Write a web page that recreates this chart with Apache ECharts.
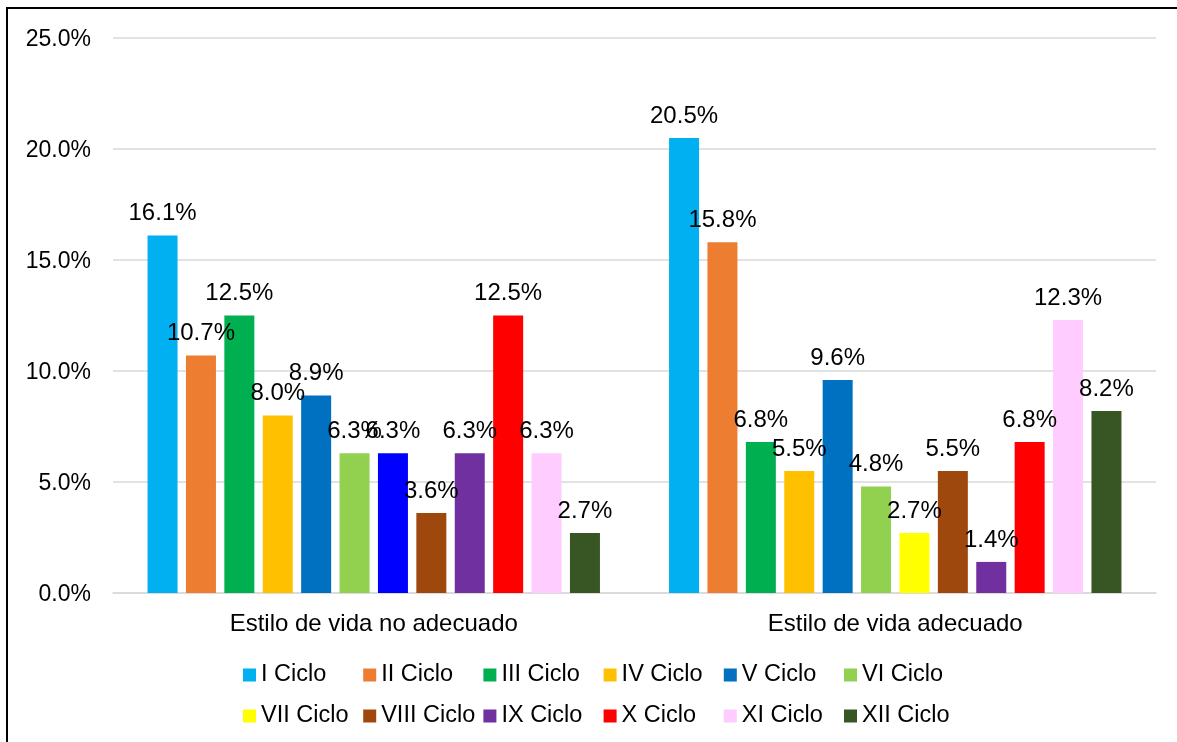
<!DOCTYPE html>
<html>
<head>
<meta charset="utf-8">
<script src="https://cdn.jsdelivr.net/npm/echarts@6/dist/echarts.min.js"></script>
<style>
  html, body { margin: 0; padding: 0; background: #fff; }
  #main { width: 1177px; height: 742px; }
</style>
</head>
<body>
<div id="main"></div>
<script>
const categories = ['Estilo de vida no adecuado', 'Estilo de vida adecuado'];
const cycles = ['I Ciclo', 'II Ciclo', 'III Ciclo', 'IV Ciclo', 'V Ciclo', 'VI Ciclo',
  'VII Ciclo', 'VIII Ciclo', 'IX Ciclo', 'X Ciclo', 'XI Ciclo', 'XII Ciclo'];
// porcentaje por ciclo: [no adecuado, adecuado]
const values = [
  [16.1, 20.5],
  [10.7, 15.8],
  [12.5, 6.8],
  [8.0, 5.5],
  [8.9, 9.6],
  [6.3, 4.8],
  [6.3, 2.7],
  [3.6, 5.5],
  [6.3, 1.4],
  [12.5, 6.8],
  [6.3, 12.3],
  [2.7, 8.2]
];
const colors = ['#00B0F0', '#ED7D31', '#00B050', '#FFC000', '#0070C0', '#92D050',
  '#FFFF00', '#9E480E', '#7030A0', '#FF0000', '#FFCCFF', '#375623'];
const yTicks = [0, 5, 10, 15, 20, 25];

const font = 'Liberation Sans, Arial, sans-serif';

const chart = echarts.init(document.getElementById('main'));

const series = cycles.map((name, i) => ({
  name: name,
  type: 'bar',
  barWidth: 30,
  barGap: '28%',
  itemStyle: { color: colors[i] },
  label: {
    show: true,
    position: 'top',
    distance: 10,
    color: '#000',
    fontFamily: font,
    fontSize: 24,
    formatter: p => p.value.toFixed(1) + '%'
  },
  // en el original la barra VII del primer grupo sale en azul
  data: values[i].map((v, j) => (i === 6 && j === 0) ? { value: v, itemStyle: { color: '#0000FF' } } : v)
}));

// leyenda en columnas de ancho fijo (6 por fila), como la de Excel
const legends = cycles.map((name, i) => ({
  data: [name],
  left: 243 + (i % 6) * 120.2,
  top: i < 6 ? 663 : 704,
  padding: 0,
  itemWidth: 13,
  itemHeight: 13,
  icon: 'rect',
  textStyle: { color: '#000', fontFamily: font, fontSize: 23.5 }
}));

chart.setOption({
  animation: false,
  color: colors,
  grid: { left: 113, right: 21, top: 38, bottom: 149 },
  xAxis: {
    type: 'category',
    data: categories,
    axisLine: { show: true, lineStyle: { color: '#D9D9D9', width: 1.5 } },
    axisTick: { show: false },
    axisLabel: { color: '#000', fontFamily: font, fontSize: 24, margin: 19 }
  },
  yAxis: {
    type: 'value',
    min: yTicks[0],
    max: yTicks[yTicks.length - 1],
    interval: 5,
    axisLine: { show: false },
    axisTick: { show: false },
    splitLine: { lineStyle: { color: '#D9D9D9', width: 1.5 } },
    axisLabel: {
      color: '#000', fontFamily: font, fontSize: 23, margin: 22,
      verticalAlign: 'top', lineHeight: 4,
      formatter: v => v.toFixed(1) + '%'
    }
  },
  legend: legends,
  graphic: [{
    type: 'rect',
    shape: { x: 7, y: 8, width: 1300, height: 900 },
    style: { fill: 'none', stroke: '#000', lineWidth: 2 }
  }],
  series: series
});
</script>
</body>
</html>
